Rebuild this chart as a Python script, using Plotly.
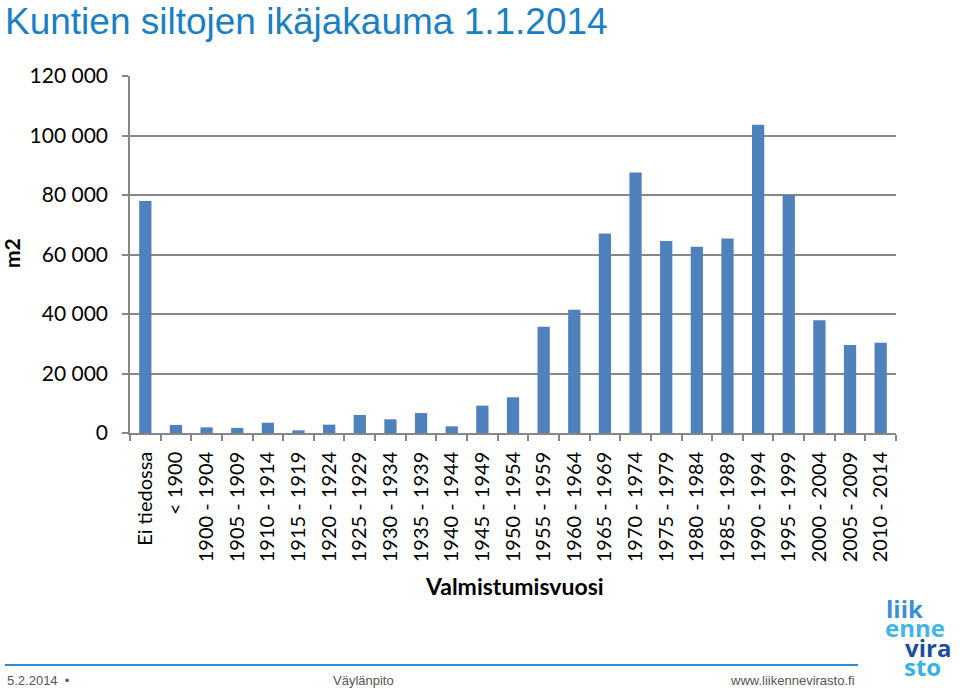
import plotly.graph_objects as go

categories = ["Ei tiedossa", "< 1900", "1900 - 1904", "1905 - 1909", "1910 - 1914",
              "1915 - 1919", "1920 - 1924", "1925 - 1929", "1930 - 1934", "1935 - 1939",
              "1940 - 1944", "1945 - 1949", "1950 - 1954", "1955 - 1959", "1960 - 1964",
              "1965 - 1969", "1970 - 1974", "1975 - 1979", "1980 - 1984", "1985 - 1989",
              "1990 - 1994", "1995 - 1999", "2000 - 2004", "2005 - 2009", "2010 - 2014"]
area_m2 = [78000, 2700, 1900, 1700, 3450, 900, 2800, 6050, 4600, 6700,
           2250, 9200, 12000, 35700, 41400, 67100, 87600, 64500, 62600, 65400,
           103600, 80000, 37900, 29600, 30300]
y_ticks = [0, 20000, 40000, 60000, 80000, 100000, 120000]

W, H = 960, 691
L, R, T, B = 130, 64, 76, 258
PW, PH = W - L - R, H - T - B

def px(x):
    return (x - L) / PW

def py(y):
    return (T + PH - y) / PH

fig = go.Figure()
fig.add_trace(go.Bar(x=categories, y=area_m2, marker=dict(color="#4f81bd", line=dict(width=0))))

fig.update_layout(
    width=W, height=H,
    margin=dict(l=L, r=R, t=T, b=B, autoexpand=False),
    paper_bgcolor="white", plot_bgcolor="white",
    separators=", ",
    bargap=0.6,
    showlegend=False,
    font=dict(family="Lato", color="#000000"),
)
fig.update_xaxes(
    type="category", tickangle=-90,
    tickfont=dict(family="Lato", size=20, color="#000000"),
    showline=True, linecolor="#868686", linewidth=1.5,
    ticks="outside", tickson="boundaries", ticklen=6, tickcolor="#868686", tickwidth=1.5,
    ticklabelstandoff=9,
    showgrid=False, zeroline=False,
)
fig.update_yaxes(
    range=[0, 120000], tickvals=y_ticks, tickformat=",d",
    tickfont=dict(family="Lato", size=21, color="#000000"),
    showline=True, linecolor="#868686", linewidth=1.5,
    ticks="outside", ticklen=6, tickcolor="#868686", tickwidth=1.5,
    ticklabelstandoff=10,
    showgrid=True, gridcolor="#878787", gridwidth=1.6,
    zeroline=False,
)

ann = []
ann.append(dict(text="Kuntien siltojen ikäjakauma 1.1.2014", x=px(3), y=py(21), xref="paper", yref="paper",
                xanchor="left", yanchor="middle", showarrow=False,
                font=dict(family="Liberation Sans", size=37, color="#1a80c4")))
ann.append(dict(text="<b>m2</b>", x=px(11), y=py(253), xref="paper", yref="paper", textangle=-90,
                xanchor="center", yanchor="middle", showarrow=False,
                font=dict(family="Lato", size=21, color="#000000")))
ann.append(dict(text="<b>Valmistumisvuosi</b>", x=px(514), y=py(586), xref="paper", yref="paper",
                xanchor="center", yanchor="middle", showarrow=False,
                font=dict(family="Lato", size=23, color="#000000")))
ann.append(dict(text="5.2.2014  •", x=px(5), y=py(680), xref="paper", yref="paper",
                xanchor="left", yanchor="middle", showarrow=False,
                font=dict(family="Liberation Sans", size=13, color="#555555")))
ann.append(dict(text="Väylänpito", x=px(363), y=py(680), xref="paper", yref="paper",
                xanchor="center", yanchor="middle", showarrow=False,
                font=dict(family="Liberation Sans", size=13, color="#555555")))
ann.append(dict(text="www.liikennevirasto.fi", x=px(857), y=py(680), xref="paper", yref="paper",
                xanchor="right", yanchor="middle", showarrow=False,
                font=dict(family="Liberation Sans", size=13, color="#555555")))
logo = [("liik", 884, 608, "left", "#3a8fd6"),
        ("enne", 883, 628, "left", "#41b6e6"),
        ("vira", 953, 647, "right", "#1b4e9b"),
        ("sto", 922, 666, "center", "#38b2e0")]
for txt, x, y, anc, col in logo:
    ann.append(dict(text="<b>" + txt + "</b>", x=px(x), y=py(y), xref="paper", yref="paper",
                    xanchor=anc, yanchor="middle", showarrow=False,
                    font=dict(family="Open Sans", size=24, color=col)))
fig.update_layout(annotations=ann)

fig.add_shape(type="line", xref="paper", yref="paper", x0=px(5), x1=px(858), y0=py(665), y1=py(665),
              line=dict(color="#2a8fd6", width=2))

fig.write_html("out.html", config={"displayModeBar": False},
               post_script="document.body.style.margin='0';document.body.style.padding='0';")
